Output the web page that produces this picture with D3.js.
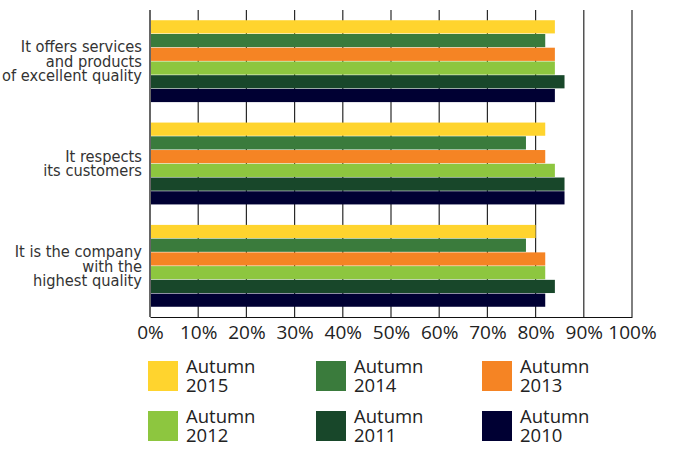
<!DOCTYPE html>
<html>
<head>
<meta charset="utf-8">
<script src="https://cdn.jsdelivr.net/npm/d3@7"></script>
<style>
  html, body { margin: 0; padding: 0; background: #fff; }
  svg { display: block; }
</style>
</head>
<body>
<svg id="chart" width="683" height="452"></svg>
<script>
// Survey statements (one group of bars each)
const categories = [
  ["It offers services", "and products", "of excellent quality"],
  ["It respects", "its customers"],
  ["It is the company", "with the", "highest quality"]
];
const seriesNames = ["Autumn 2015", "Autumn 2014", "Autumn 2013", "Autumn 2012", "Autumn 2011", "Autumn 2010"];
const seriesColors = ["#ffd42e", "#3a7b3c", "#f58424", "#8dc63f", "#18472a", "#000033"];
// Share of respondents agreeing (%), per statement, per series
const values2015 = [84, 82, 80];
const values2014 = [82, 78, 78];
const values2013 = [84, 82, 82];
const values2012 = [84, 84, 82];
const values2011 = [86, 86, 84];
const values2010 = [84, 86, 82];
const tickValues = [0, 10, 20, 30, 40, 50, 60, 70, 80, 90, 100];

const seriesValues = [values2015, values2014, values2013, values2012, values2011, values2010];

const svg = d3.select("#chart");
const margin = { left: 150, right: 51, top: 10, bottom: 135 };
const W = 683, H = 452;
const plotW = W - margin.left - margin.right;
const plotH = H - margin.top - margin.bottom;

const g = svg.append("g").attr("transform", `translate(${margin.left},${margin.top})`);

const x = d3.scaleLinear().domain([0, 100]).range([0, plotW]);
const y0 = d3.scaleBand().domain(d3.range(categories.length)).range([0, plotH])
  .paddingInner(0.2).paddingOuter(0.1);
const y1 = d3.scaleBand().domain(d3.range(seriesNames.length)).range([0, y0.bandwidth()])
  .paddingInner(0.04);

// Vertical gridlines
g.append("g").selectAll("line").data(tickValues.slice(1)).join("line")
  .attr("x1", d => x(d)).attr("x2", d => x(d))
  .attr("y1", 0).attr("y2", plotH)
  .attr("stroke", "#2a2a2a").attr("stroke-width", 1.2);

// Bars
const groups = g.append("g").selectAll("g").data(categories).join("g")
  .attr("transform", (d, i) => `translate(0,${y0(i)})`);
groups.selectAll("rect")
  .data((d, i) => seriesValues.map((vals, s) => ({ s, v: vals[i] })))
  .join("rect")
  .attr("x", 0)
  .attr("y", d => y1(d.s))
  .attr("width", d => x(d.v))
  .attr("height", y1.bandwidth())
  .attr("fill", d => seriesColors[d.s]);

// Left axis line
g.append("line").attr("x1", 0).attr("x2", 0).attr("y1", 0).attr("y2", plotH)
  .attr("stroke", "#666").attr("stroke-width", 2);

// Bottom axis
const xAxis = g.append("g").attr("transform", `translate(0,${plotH})`)
  .call(d3.axisBottom(x).tickValues(tickValues).tickSize(0).tickPadding(8)
    .tickFormat(d => d + "%"));
xAxis.select(".domain").attr("stroke", "#111").attr("stroke-width", 1.2);
xAxis.selectAll("text")
  .attr("font-family", "'Open Sans', 'Noto Sans', sans-serif")
  .attr("font-size", 19)
  .attr("fill", "#222")
  .attr("dy", "0.75em");

// Category labels
const lineH = 14.5;
g.append("g").selectAll("text").data(categories).join("text")
  .attr("text-anchor", "end")
  .attr("font-family", "'DejaVu Sans Condensed', sans-serif")
  .attr("font-size", 16.3)
  .attr("fill", "#333")
  .attr("transform", (d, i) => `translate(-8,${y0(i) + y0.bandwidth() / 2 - (d.length - 1) * lineH / 2})`)
  .each(function (lines) {
    d3.select(this).selectAll("tspan").data(lines).join("tspan")
      .attr("x", 0)
      .attr("y", (l, j) => j * lineH)
      .attr("dy", "0.35em")
      .text(l => l);
  });

// Legend: 3 columns x 2 rows
const legendX = [148, 316, 482];
const legendY = [361, 411];
const legend = svg.append("g").selectAll("g").data(seriesNames).join("g")
  .attr("transform", (d, i) => `translate(${legendX[i % 3]},${legendY[Math.floor(i / 3)]})`);
legend.append("rect").attr("width", 30).attr("height", 30)
  .attr("fill", (d, i) => seriesColors[i]);
legend.append("text")
  .attr("font-family", "'Open Sans', 'Noto Sans', sans-serif")
  .attr("font-size", 18.5)
  .attr("fill", "#222")
  .each(function (name) {
    const parts = name.split(" ");
    d3.select(this).selectAll("tspan").data(parts).join("tspan")
      .attr("x", 38)
      .attr("y", (p, j) => 12 + j * 19)
      .text(p => p);
  });
</script>
</body>
</html>
